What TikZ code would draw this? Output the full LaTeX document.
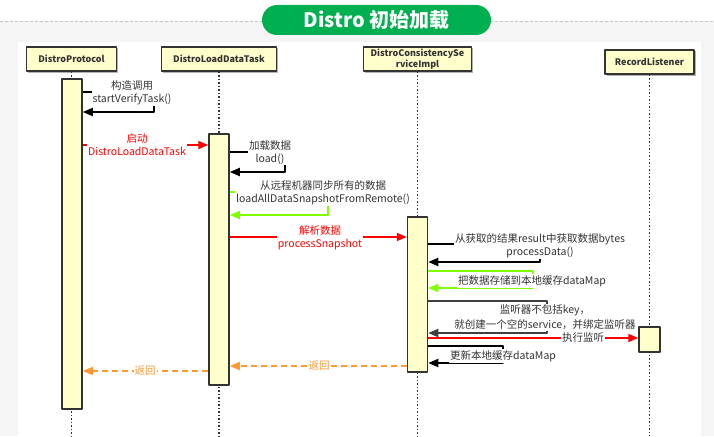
\documentclass[tikz,border=0pt]{standalone}
\usepackage{fontspec}
\setmainfont{Noto Sans CJK SC}
\usetikzlibrary{arrows.meta,shadows}
\definecolor{barfill}{HTML}{FFFFCC}
\definecolor{edge}{HTML}{333333}
\definecolor{txt}{HTML}{333333}
\definecolor{callred}{HTML}{FF0000}
\definecolor{callgreen}{HTML}{80FF00}
\definecolor{calldark}{HTML}{404040}
\definecolor{ret}{HTML}{FF9933}
\definecolor{titlegreen}{HTML}{00B050}
\definecolor{backgray}{HTML}{F5F5F5}
\begin{document}
\begin{tikzpicture}[x=1pt,y=-1pt,line join=round,>={Triangle[length=10pt,width=8pt]},
	head/.style={draw=edge,fill=barfill,line width=1.5pt,minimum height=24pt,inner sep=1pt,align=center,text=edge,font=\bfseries\fontsize{9}{11}\selectfont,drop shadow={shadow xshift=1.5pt,shadow yshift=-1.5pt,fill=gray,opacity=.6}},
	bar/.style={draw=edge,fill=barfill,line width=1.5pt,minimum width=20pt,inner sep=0pt},
	life/.style={draw=edge,line width=1.5pt,dash pattern=on 1.5pt off 2pt},
	call/.style={->,line width=1.8pt},
	back/.style={->,line width=1.8pt,draw=ret,dash pattern=on 6pt off 4pt},
	lbl/.style={fill=white,inner sep=1pt,align=center,text=txt,font=\fontsize{10.5}{13}\selectfont}]
	\useasboundingbox (0,0) rectangle (714,436);
	% background and title
	\fill[backgray] (0,21) rectangle (714,436);
	\fill[white] (18,42) rectangle (701,436);
	\draw[gray!45,line width=.6pt,dash pattern=on 3pt off 2pt] (0,21)--(714,21);
	\node[fill=titlegreen,rounded corners=15pt,minimum width=229pt,minimum height=30pt,text=white,font=\bfseries\fontsize{20}{24}\selectfont] (title) at (376.5,20) {Distro 初始加载};
	% lifelines
	\coordinate (bottomline) at (0,436);
	\node[head,minimum width=90pt] (proto) at (71.5,59) {DistroProtocol};
	\node[head,minimum width=115pt] (task) at (219,59) {DistroLoadDataTask};
	\node[head,minimum width=108pt,inner sep=0pt] (impl) at (417.5,59) {DistroConsistencySe\\rviceImpl};
	\node[head,minimum width=89pt] (lis) at (649.5,62) {RecordListener};
	\foreach \n in {proto,task,impl,lis}
	\draw[life] (\n.south) -- (\n.south |- bottomline);
	\node[bar,minimum height=330pt] (protobar) at (72,244) {};
	\node[bar,minimum height=251pt] (taskbar) at (219,259.5) {};
	\node[bar,minimum height=155pt] (implbar) at (417.5,294.5) {};
	\node[bar,minimum height=25pt,minimum width=21pt] (lisbar) at (649.5,339.5) {};
	% DistroProtocol
	\draw[call] (protobar.east |- 0,92) -| (154,112) -- (protobar.east |- 0,112);
	\node[lbl] (verify) at (132,92.5) {构造调用\\startVerifyTask()};
	\draw[call,callred] (protobar.east |- 0,145) -- (taskbar.west |- 0,145);
	\node[lbl,text=callred] (start) at (137,145) {启动\\DistroLoadDataTask};
	% DistroLoadDataTask
	\draw[call] (taskbar.east |- 0,152) -| (285,172) -- (taskbar.east |- 0,172);
	\node[lbl] (load) at (270,152.5) {加载数据\\load()};
	\draw[call,callgreen] (taskbar.east |- 0,192) -| (328,215) -- (taskbar.east |- 0,215);
	\node[lbl] (remote) at (323,193) {从远程机器同步所有的数据\\loadAllDataSnapshotFromRemote()};
	\draw[call,callred] (taskbar.east |- 0,237) -- (implbar.west |- 0,237);
	\node[lbl,text=callred] (snap) at (320,238) {解析数据\\processSnapshot};
	% DistroConsistencyServiceImpl
	\draw[call] (implbar.east |- 0,244) -| (540,262) -- (implbar.east |- 0,262);
	\node[lbl] (pdata) at (540,245.5) {从获取的结果result中获取数据bytes\\processData()};
	\draw[call,callgreen] (implbar.east |- 0,271) -| (533,288) -- (implbar.east |- 0,288);
	\node[lbl] (store) at (532,281) {把数据存储到本地缓存dataMap};
	\draw[call,calldark] (implbar.east |- 0,301) -| (547,333) -- (implbar.east |- 0,333);
	\node[lbl] (nokey) at (545,317.5) {监听器不包括key，\\[2pt]就创建一个空的service，并绑定监听器};
	\draw[call,callred] (implbar.east |- 0,338) -- (lisbar.west |- 0,338);
	\node[lbl] (listen) at (583,338) {执行监听};
	\draw[call] (implbar.east |- 0,346) -| (503,363) -- (implbar.east |- 0,363);
	\node[lbl] (update) at (503,356) {更新本地缓存dataMap};
	% returns
	\draw[back] (implbar.west |- 0,366) -- (taskbar.east |- 0,366);
	\node[lbl,text=ret] (ret1) at (319,366) {返回};
	\draw[back] (taskbar.west |- 0,371) -- (protobar.east |- 0,371);
	\node[lbl,text=ret] (ret2) at (145,371) {返回};
\end{tikzpicture}
\end{document}
